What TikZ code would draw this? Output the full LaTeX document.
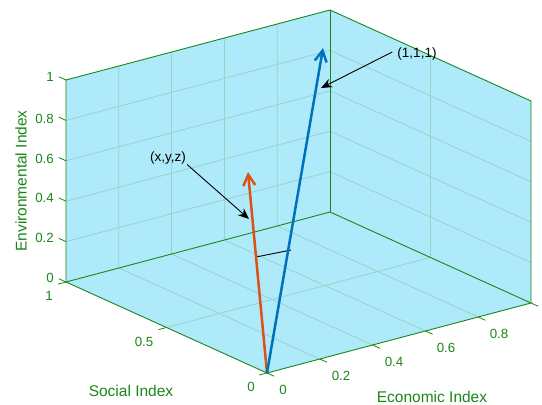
\documentclass[tikz,border=0pt]{standalone}
\usepackage{fontspec}
\setmainfont{Liberation Sans}
\usetikzlibrary{arrows.meta,calc}
\definecolor{boxfill}{RGB}{174,234,250}
\definecolor{axgreen}{RGB}{25,135,25}
\definecolor{gridc}{RGB}{150,212,200}
\definecolor{vblue}{RGB}{0,114,189}
\definecolor{vred}{RGB}{217,83,25}
\begin{document}
\begin{tikzpicture}[x=1pt,y=-1pt,
  edge/.style={draw=axgreen,line width=0.9pt},
  gridl/.style={draw=gridc,line width=0.8pt},
  tickl/.style={draw=axgreen,line width=0.8pt},
  ticklab/.style={text=axgreen,font=\fontsize{13.3}{15}\selectfont,inner sep=0pt},
  axlab/.style={text=axgreen,font=\fontsize{15.5}{18}\selectfont,inner sep=0pt},
  vec/.style={line width=2.5pt,-{Straight Barb[length=11pt,width=12pt]}},
  note/.style={text=black,font=\fontsize{13.5}{16}\selectfont,inner sep=0pt},
  callout/.style={draw=black,line width=0.9pt,-{Stealth[length=11pt,width=9pt]}}
]
\useasboundingbox (0,0) rectangle (542,405);
\begin{scope}[shift={(267,373)},x={(264pt,70pt)},y={(-201pt,91pt)},z={(0pt,202pt)}]
  \fill[boxfill] (0,0,0) -- (0,1,0) -- (0,1,1) -- (1,1,1) -- (1,0,1) -- (1,0,0) -- cycle;
  \foreach \t in {0.2,0.4,0.6,0.8} {
    \draw[gridl] (\t,0,0) -- (\t,1,0) -- (\t,1,1);
    \draw[gridl] (0,1,\t) -- (1,1,\t) -- (1,0,\t);
  }
  \draw[gridl] (0,0.5,0) -- (1,0.5,0) -- (1,0.5,1);
  \draw[edge] (0,0,0) -- (0,1,0) -- (1,1,0) -- (1,0,0) -- cycle;
  \draw[edge] (0,1,0) -- (0,1,1) -- (1,1,1) -- (1,0,1) -- (1,0,0);
  \draw[edge] (1,1,0) -- (1,1,1);
  \foreach \t in {0,0.2,0.4,0.6,0.8,1} \draw[tickl] (0,1,\t) -- (0,1.036,\t);
  \foreach \t in {0,0.5,1} \draw[tickl] (0,\t,0) -- (-0.03,\t,0);
  \foreach \t in {0,0.2,0.4,0.6,0.8,1} \draw[tickl] (\t,0,0) -- (\t,-0.036,0);
  \coordinate (O) at (0,0,0);
  \coordinate (B) at (0.889,0.889,0.9);
\end{scope}
\coordinate (R) at (248,172);
% right-angle mark
\coordinate (ra1) at ($(O)!0.577!(R)$);
\coordinate (ra2) at (291,250);
\draw[black,line width=0.9pt] (ra1) -- (ra2);
% vectors
\draw[vec,vred] (O) -- (R);
\draw[vec,vblue] (O) -- (B);
% tick labels
\node[ticklab,anchor=east] (z0) at (54,278) {0};
\node[ticklab,anchor=east] (z2) at (54,238) {0.2};
\node[ticklab,anchor=east] (z4) at (54,198) {0.4};
\node[ticklab,anchor=east] (z6) at (54,159) {0.6};
\node[ticklab,anchor=east] (z8) at (54,119) {0.8};
\node[ticklab,anchor=east] (z10) at (54,77) {1};
\node[ticklab] (s10) at (49,296) {1};
\node[ticklab] (s5) at (144,342) {0.5};
\node[ticklab] (s0) at (251,387) {0};
\node[ticklab] (e0) at (283,390) {0};
\node[ticklab] (e2) at (341,376) {0.2};
\node[ticklab] (e4) at (394,362) {0.4};
\node[ticklab] (e6) at (446,348) {0.6};
\node[ticklab] (e8) at (499,334) {0.8};
% axis labels
\node[axlab,rotate=90] (zlab) at (21,181) {Environmental Index};
\node[axlab] (slab) at (131,391) {Social Index};
\node[axlab] (elab) at (432,397) {Economic Index};
% annotations
\node[note] (l111) at (417,54) {(1,1,1)};
\coordinate (a1) at (321,88);
\draw[callout] ([xshift=-5pt,yshift=2pt]l111.west) -- (a1);
\node[note] (lxyz) at (168,158) {(x,y,z)};
\coordinate (a2) at (249,219);
\draw[callout] ([xshift=1pt]lxyz.south east) -- (a2);
\end{tikzpicture}
\end{document}
